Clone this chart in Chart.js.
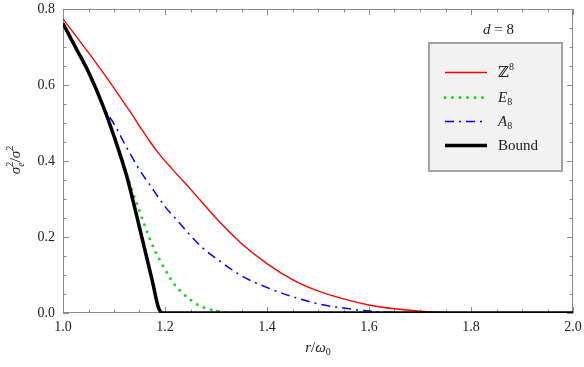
<!DOCTYPE html>
<html lang="en">
  <head>
    <meta charset="UTF-8" />
    <title>Error variance vs r/omega0, d = 8</title>
    <script src="https://cdn.jsdelivr.net/npm/chart.js"></script>
    <style>
      html,
      body {
        margin: 0;
        padding: 0;
        background: #fff;
      }
    </style>
  </head>
  <body>
    <canvas id="varChart" width="584" height="367"></canvas>

    <script>
      const rZ8 = [1.0, 1.05, 1.1, 1.13, 1.15, 1.17, 1.19, 1.22, 1.25, 1.3, 1.35, 1.4, 1.45, 1.5, 1.55, 1.6, 1.65, 1.7, 1.75, 1.8, 2.0];
      const vZ8 = [0.774, 0.685, 0.592, 0.533, 0.492, 0.452, 0.416, 0.37, 0.326, 0.25, 0.183, 0.13, 0.088, 0.058, 0.037, 0.021, 0.011, 0.005, 0.0015, 0, 0];

      const rE8 = [1.0, 1.025, 1.05, 1.08, 1.1, 1.125, 1.14, 1.15, 1.165, 1.18, 1.2, 1.22, 1.24, 1.26, 1.28, 1.3, 1.32, 1.34, 2.0];
      const vE8 = [0.762, 0.698, 0.634, 0.54, 0.467, 0.365, 0.305, 0.268, 0.213, 0.165, 0.115, 0.073, 0.046, 0.025, 0.013, 0.006, 0.001, 0, 0];

      const rA8 = [1.0, 1.025, 1.05, 1.08, 1.1, 1.125, 1.15, 1.175, 1.2, 1.225, 1.25, 1.275, 1.3, 1.35, 1.4, 1.45, 1.5, 1.55, 1.6, 1.65, 1.7, 2.0];
      const vA8 = [0.762, 0.698, 0.634, 0.54, 0.498, 0.435, 0.377, 0.328, 0.28, 0.242, 0.204, 0.17, 0.144, 0.098, 0.067, 0.043, 0.024, 0.013, 0.005, 0.001, 0, 0];

      const rBound = [1.0, 1.025, 1.05, 1.08, 1.1, 1.125, 1.15, 1.175, 1.187, 1.196, 2.0];
      const vBound = [0.762, 0.698, 0.634, 0.54, 0.465, 0.36, 0.225, 0.085, 0.015, 0, 0];

      const xTicks = [1.0, 1.2, 1.4, 1.6, 1.8, 2.0];
      const yTicks = [0.0, 0.2, 0.4, 0.6, 0.8];

      const serif = '"Liberation Serif", "DejaVu Serif", serif';

      function pts(xs, ys) {
        return xs.map((x, i) => ({ x: x, y: ys[i] }));
      }

      // draw a run of text pieces (italic / sub / sup) starting at x
      function richWidth(ctx, parts) {
        let w = 0;
        parts.forEach((p) => {
          ctx.font = (p.it ? "italic " : "") + p.size + "px " + serif;
          w += ctx.measureText(p.t).width;
        });
        return w;
      }
      function drawRich(ctx, parts, x, y) {
        parts.forEach((p) => {
          ctx.font = (p.it ? "italic " : "") + p.size + "px " + serif;
          ctx.fillText(p.t, x, y + (p.dy || 0));
          x += ctx.measureText(p.t).width;
        });
      }

      // Mathematica style frame: box plus inward major/minor ticks on all sides
      function drawFrame(chart) {
        const ctx = chart.ctx;
        const a = chart.chartArea;
        const sx = chart.scales.x;
        const sy = chart.scales.y;
        ctx.save();
        ctx.setLineDash([]);
        ctx.strokeStyle = "#8c8c8c";
        ctx.lineWidth = 1;
        ctx.beginPath();
        ctx.rect(Math.round(a.left) + 0.5, Math.round(a.top) + 0.5, Math.round(a.right - a.left) - 1, Math.round(a.bottom - a.top) - 1);
        for (let i = 0; i <= 20; i++) {
          const px = Math.round(sx.getPixelForValue(1 + i * 0.05)) + 0.5;
          const len = i % 4 === 0 ? 6 : 3.5;
          ctx.moveTo(px, a.bottom);
          ctx.lineTo(px, a.bottom - len);
          ctx.moveTo(px, a.top);
          ctx.lineTo(px, a.top + len);
        }
        for (let i = 0; i <= 16; i++) {
          const py = Math.round(sy.getPixelForValue(i * 0.05)) + 0.5;
          const len = i % 4 === 0 ? 6 : 3.5;
          ctx.moveTo(a.left, py);
          ctx.lineTo(a.left + len, py);
          ctx.moveTo(a.right, py);
          ctx.lineTo(a.right - len, py);
        }
        ctx.stroke();
        ctx.restore();
      }

      const framePlugin = {
        id: "mmaFrame",
        beforeDraw(chart) {
          drawFrame(chart);
        },
        afterDraw(chart) {
          const { ctx, chartArea: a } = chart;
          ctx.save();
          ctx.fillStyle = "#222";
          ctx.textBaseline = "alphabetic";

          // x axis title  r/ω0
          const xt = [
            { t: "r", it: true, size: 15 },
            { t: "/", size: 15 },
            { t: "ω", it: true, size: 15 },
            { t: "0", size: 10, dy: 3 },
          ];
          drawRich(ctx, xt, (a.left + a.right) / 2 - richWidth(ctx, xt) / 2, 352);

          // y axis title  σe²/σ²
          const yt = [
            { t: "σ", it: true, size: 15 },
            { t: "e", it: true, size: 10, dy: 4 },
            { t: "/", size: 15 },
            { t: "σ", it: true, size: 15 },
            { t: "2", size: 10, dy: -7 },
          ];
          ctx.translate(20, 160);
          ctx.rotate(-Math.PI / 2);
          const yw = richWidth(ctx, yt);
          drawRich(ctx, yt.slice(0, 1), -yw / 2, 0);
          ctx.font = "italic 15px " + serif;
          const sw = ctx.measureText("σ").width;
          ctx.font = "10px " + serif;
          ctx.fillText("2", -yw / 2 + sw, -7);
          drawRich(ctx, yt.slice(1), -yw / 2 + sw, 0);
          ctx.restore();

          // legend
          ctx.save();
          ctx.fillStyle = "#222";
          drawRich(
            ctx,
            [
              { t: "d", it: true, size: 15 },
              { t: " = 8", size: 15 },
            ],
            483,
            34
          );
          ctx.fillStyle = "#f2f2f2";
          ctx.fillRect(429, 43, 133, 128);
          ctx.strokeStyle = "#a3a3a3";
          ctx.lineWidth = 2;
          ctx.strokeRect(429, 43, 133, 128);

          const labels = [
            [{ t: "ℤ", size: 15 }, { t: "8", size: 10, dy: -7 }],
            [{ t: "E", it: true, size: 15 }, { t: "8", size: 10, dy: 3 }],
            [{ t: "A", it: true, size: 15 }, { t: "8", size: 10, dy: 3 }],
            [{ t: "Bound", size: 15 }],
          ];
          const order = [1, 2, 3, 0];
          const rows = [72, 97, 121, 145];
          order.forEach((di, k) => {
            const ds = chart.data.datasets[di];
            ctx.save();
            ctx.strokeStyle = ds.borderColor;
            ctx.lineWidth = ds.borderWidth;
            ctx.lineCap = ds.borderCapStyle || "butt";
            ctx.setLineDash(ds.borderDash || []);
            ctx.beginPath();
            ctx.moveTo(445, rows[k] + 0.5);
            ctx.lineTo(487, rows[k] + 0.5);
            ctx.stroke();
            ctx.restore();
            ctx.fillStyle = "#222";
            drawRich(ctx, labels[k], 498, rows[k] + 5);
          });
          ctx.restore();
        },
      };

      const ctx = document.getElementById("varChart").getContext("2d");
      const varChart = new Chart(ctx, {
        type: "scatter",
        data: {
          datasets: [
            {
              label: "Bound",
              data: pts(rBound, vBound),
              borderColor: "#000000",
              borderWidth: 3.5,
              order: 0,
            },
            {
              label: "Z8",
              data: pts(rZ8, vZ8),
              borderColor: "#ff0000",
              borderWidth: 1.4,
              order: 3,
            },
            {
              label: "E8",
              data: pts(rE8, vE8),
              borderColor: "#1ed41e",
              borderWidth: 3,
              borderDash: [0, 7.5],
              borderCapStyle: "round",
              order: 2,
            },
            {
              label: "A8",
              data: pts(rA8, vA8),
              borderColor: "#0000ff",
              borderWidth: 1.5,
              borderDash: [9, 5, 2, 5],
              order: 1,
            },
          ],
        },
        options: {
          responsive: false,
          animation: false,
          showLine: true,
          elements: {
            point: { radius: 0 },
            line: { cubicInterpolationMode: "monotone" },
          },
          layout: { padding: { top: 9, right: 11, left: 0, bottom: 0 } },
          plugins: {
            legend: { display: false },
            tooltip: { enabled: false },
          },
          scales: {
            x: {
              type: "linear",
              min: 1,
              max: 2,
              afterBuildTicks: (s) => {
                s.ticks = xTicks.map((v) => ({ value: v }));
              },
              afterFit: (s) => {
                s.height = 54;
                s.paddingLeft = 0;
                s.paddingRight = 0;
              },
              grid: { display: false, drawTicks: false },
              border: { display: false },
              ticks: {
                padding: 6,
                maxRotation: 0,
                color: "#222",
                font: { family: serif, size: 14 },
                callback: (v) => Number(v).toFixed(1),
              },
            },
            y: {
              min: 0,
              max: 0.8,
              afterBuildTicks: (s) => {
                s.ticks = yTicks.map((v) => ({ value: v }));
              },
              afterFit: (s) => {
                s.width = 63;
                s.paddingTop = 0;
                s.paddingBottom = 0;
              },
              grid: { display: false, drawTicks: false },
              border: { display: false },
              ticks: {
                padding: 8,
                color: "#222",
                font: { family: serif, size: 14 },
                callback: (v) => Number(v).toFixed(1),
              },
            },
          },
        },
        plugins: [framePlugin],
      });
    </script>
  </body>
</html>
